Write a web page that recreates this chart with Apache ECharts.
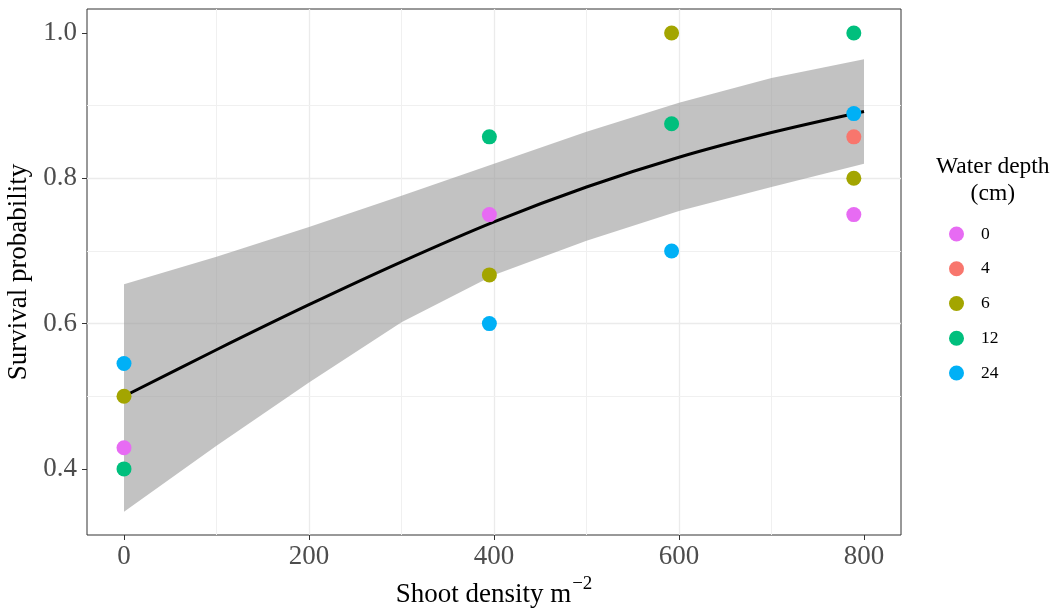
<!DOCTYPE html>
<html><head><meta charset="utf-8">
<script src="https://cdn.jsdelivr.net/npm/echarts@6/dist/echarts.min.js"></script>
<style>html,body{margin:0;padding:0;background:#fff}#c{width:1055px;height:609px}</style>
</head><body><div id="c"></div>
<script>
// ---- data ----
const depthNames = ['0', '4', '6', '12', '24'];
const depthColors = ['#E76BF3', '#F8766D', '#A3A500', '#00BF7D', '#00B0F6'];
const pts0  = [[0, 0.429], [395, 0.75], [789, 0.75]];
const pts4  = [[789, 0.857]];
const pts6  = [[0, 0.5], [395, 0.667], [592, 1.0], [789, 0.8]];
const pts12 = [[0, 0.4], [395, 0.857], [592, 0.875], [789, 1.0]];
const pts24 = [[0, 0.545], [395, 0.6], [592, 0.7], [789, 0.889]];
const fitX      = [0, 100, 200, 300, 400, 500, 600, 700, 800];
const fitY      = [0.500, 0.564, 0.626, 0.685, 0.740, 0.788, 0.829, 0.863, 0.892];
const bandUpper = [0.654, 0.692, 0.733, 0.776, 0.820, 0.864, 0.904, 0.938, 0.964];
const bandLower = [0.341, 0.432, 0.519, 0.602, 0.667, 0.714, 0.755, 0.788, 0.820];
const xTicks = [0, 200, 400, 600, 800];
const yTicks = [0.4, 0.6, 0.8, 1.0];
const xMinor = [100, 300, 500, 700];
const yMinor = [0.5, 0.7, 0.9];
const xTitle = 'Shoot density m';
const xTitleSup = '\u22122';
const yTitle = 'Survival probability';
const legendTitle = 'Water depth\n(cm)';

const allPts = [pts0, pts4, pts6, pts12, pts24];
const SERIF = '"Liberation Serif", "Times New Roman", serif';

const chart = echarts.init(document.getElementById('c'), null, {renderer: 'canvas'});

const scatterSeries = depthNames.map((n, i) => ({
  name: n, type: 'scatter', data: allPts[i], symbol: 'circle', symbolSize: 15,
  itemStyle: {color: depthColors[i], opacity: 1}, z: 5
}));

const minorLines = xMinor.map(v => ({xAxis: v})).concat(yMinor.map(v => ({yAxis: v})));

const option = {
  animation: false,
  backgroundColor: '#ffffff',
  grid: {left: 87, top: 9, right: 154, bottom: 74, containLabel: false, outerBoundsMode: 'none',
    show: true, borderColor: '#333333', borderWidth: 1, backgroundColor: 'transparent'},
  xAxis: {
    type: 'value', min: -40, max: 840,
    axisLine: {show: false, onZero: false},
    axisTick: {show: true, length: 5, lineStyle: {color: '#333333', width: 1}, customValues: xTicks},
    axisLabel: {customValues: xTicks, formatter: v => String(v), color: '#4D4D4D', fontFamily: SERIF, fontSize: 27, margin: 8},
    splitLine: {show: true, showMinLine: false, showMaxLine: false, lineStyle: {color: '#EBEBEB', width: 1.3}},
    name: '{a|' + xTitle + '}{b|' + xTitleSup + '}', nameLocation: 'middle', nameGap: 39,
    nameTextStyle: {rich: {
      a: {fontFamily: SERIF, fontSize: 27, color: '#000', lineHeight: 34, verticalAlign: 'bottom'},
      b: {fontFamily: SERIF, fontSize: 19, color: '#000', lineHeight: 34, verticalAlign: 'top', padding: [0, 0, 0, 1]}
    }}
  },
  yAxis: {
    type: 'value', min: 0.309, max: 1.033,
    axisLine: {show: false, onZero: false},
    axisTick: {show: true, length: 5, lineStyle: {color: '#333333', width: 1}, customValues: yTicks},
    axisLabel: {customValues: yTicks, formatter: v => v.toFixed(1), color: '#4D4D4D', fontFamily: SERIF, fontSize: 27, margin: 10},
    splitLine: {show: true, showMinLine: false, showMaxLine: false, lineStyle: {color: '#EBEBEB', width: 1.3}},
    name: yTitle, nameLocation: 'middle', nameRotate: 90, nameGap: 45,
    nameTextStyle: {fontFamily: SERIF, fontSize: 27, color: '#000'}
  },
  legend: {
    data: depthNames, orient: 'vertical', left: 944, top: 220,
    icon: 'circle', itemWidth: 15, itemHeight: 15, itemGap: 16.75,
    textStyle: {fontFamily: SERIF, fontSize: 17.5, color: '#000', padding: [0, 0, 0, 12]},
    selectedMode: false
  },
  graphic: [{
    type: 'text', left: 936, top: 153,
    style: {text: legendTitle, fontFamily: SERIF, fontSize: 23.5, lineHeight: 27, fill: '#000', textAlign: 'center', x: 0}
  }],
  series: [
    {
      type: 'line', data: [], silent: true, z: 1,
      markLine: {silent: true, z: 1, symbol: 'none', label: {show: false}, animation: false,
        lineStyle: {color: '#F0F0F0', width: 1, type: 'solid'}, data: minorLines}
    },
    {
      type: 'custom', z: 2, silent: true, clip: true,
      data: fitX.map((x, i) => [x, bandLower[i], bandUpper[i]]),
      encode: {x: 0, y: [1, 2]},
      renderItem: function (params, api) {
        if (params.dataIndex !== 0) return null;
        const pts = [];
        for (let i = 0; i < fitX.length; i++) pts.push(api.coord([fitX[i], bandUpper[i]]));
        for (let i = fitX.length - 1; i >= 0; i--) pts.push(api.coord([fitX[i], bandLower[i]]));
        return {type: 'polygon', shape: {points: pts}, style: {fill: 'rgba(153,153,153,0.6)', stroke: null}};
      }
    },
    {
      type: 'line', data: fitX.map((x, i) => [x, fitY[i]]), smooth: 0.3,
      showSymbol: false, symbol: 'none', lineStyle: {color: '#000000', width: 3}, z: 3, silent: true
    }
  ].concat(scatterSeries)
};
chart.setOption(option);
</script>
</body></html>
